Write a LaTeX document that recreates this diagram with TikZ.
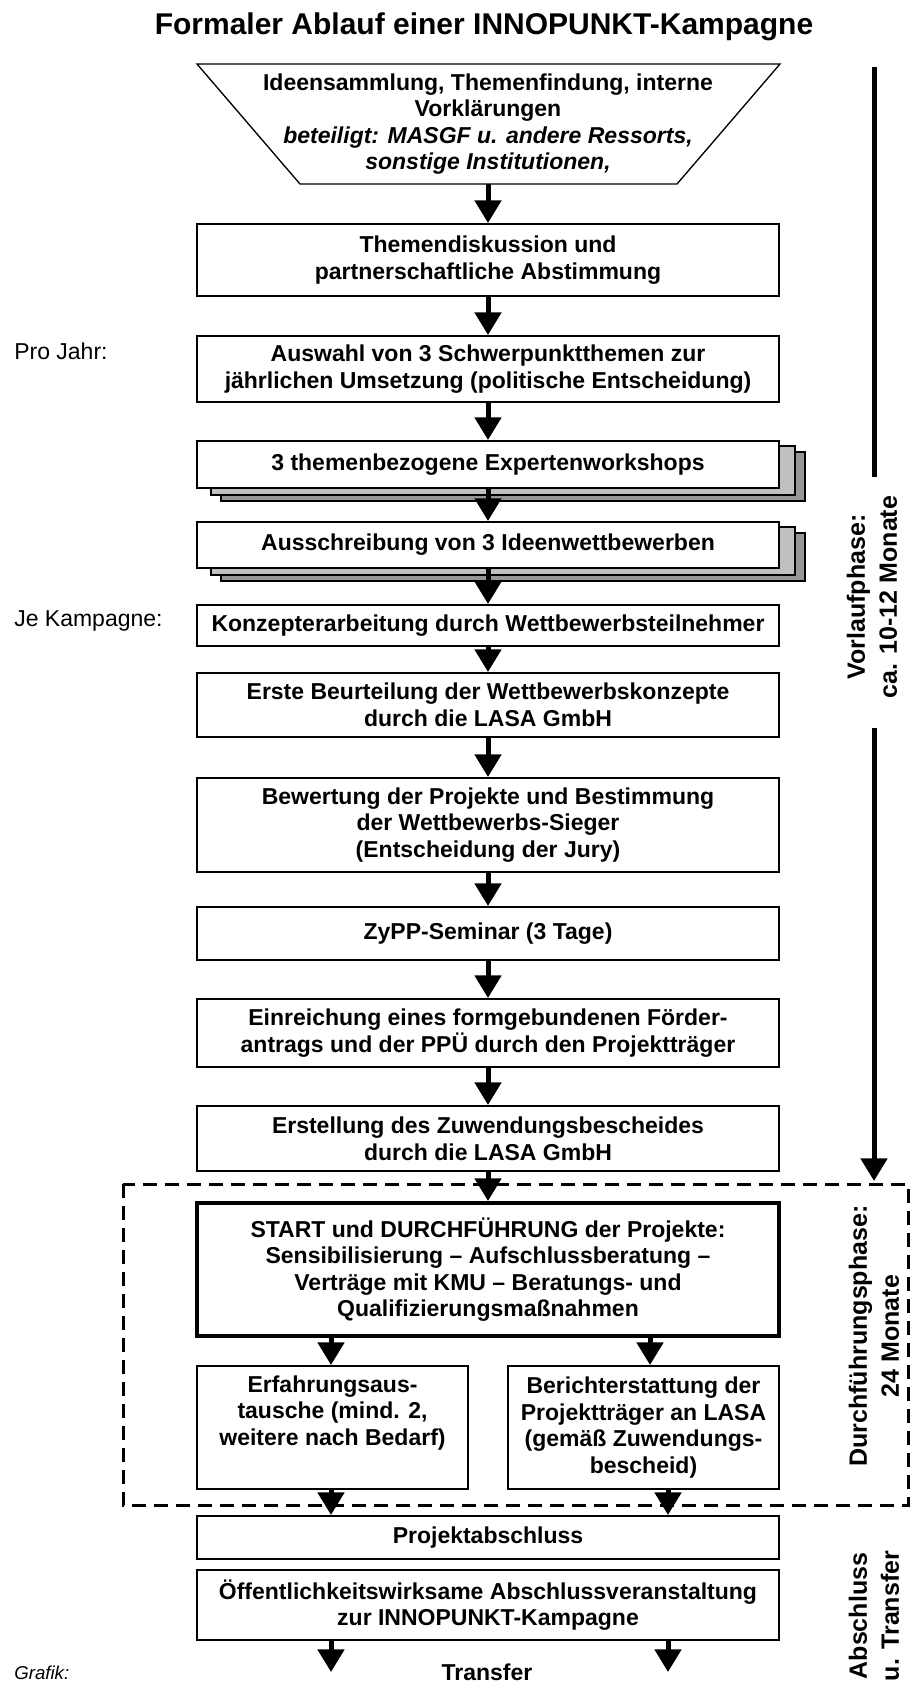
\documentclass[tikz,border=0pt]{standalone}
\usepackage{fontspec}
\setmainfont{Liberation Sans}
\usetikzlibrary{arrows.meta,calc,backgrounds}
\definecolor{shadA}{HTML}{C0C0C0}
\definecolor{shadB}{HTML}{969696}
\newcommand{\boxfont}{\fontsize{17.25pt}{19.9pt}\selectfont\bfseries}
\newcommand{\phasefont}{\fontsize{18.75pt}{24pt}\selectfont\bfseries}
\newcommand{\sidefont}{\fontsize{17.25pt}{19.9pt}\selectfont}
\begin{document}
\begin{tikzpicture}[x=0.75pt,y=-0.75pt,
  box/.style={draw, line width=1.5pt, fill=white, minimum width=436.5pt, align=center, inner sep=0pt, font=\boxfont},
  smallbox/.style={box, minimum width=203.25pt},
  arr/.style={line width=3.75pt, -{Triangle[width=19.5pt,length=17pt]}},
  bar/.style={line width=3.75pt},
  shadowbox/.style={draw, line width=1.2pt},
  phase/.style={rotate=90, align=center, inner sep=0pt, font=\phasefont},
  side/.style={anchor=base west, inner sep=0pt, font=\sidefont},
  dashrect/.style={line width=2.25pt, dash pattern=on 10.5pt off 6pt},
  trapz/.style={line width=1pt}
]
\useasboundingbox (0,0) rectangle (914,1684);

% title
\node[anchor=base, inner sep=0pt, font=\fontsize{22.5pt}{26pt}\selectfont\bfseries] (title) at (484,35) {Formaler Ablauf einer INNOPUNKT-Kampagne};

% trapezoid
\draw[trapz] (197,64) -- (780,64) -- (677,184) -- (300,184) -- cycle;
\node[align=center, inner sep=0pt, minimum width=436.5pt, minimum height=90pt, font=\boxfont] (trap) at (488,124)
  {Ideensammlung, Themenfindung, interne\\Vorklärungen\\\textit{beteiligt: MASGF u. andere Ressorts,}\\\textit{sonstige Institutionen,}};

% main column
\node[box, minimum height=54pt] (them) at (488,260) {Themendiskussion und\\partnerschaftliche Abstimmung};
\node[box, minimum height=49.5pt] (ausw) at (488,369) {Auswahl von 3 Schwerpunktthemen zur\\jährlichen Umsetzung (politische Entscheidung)};
\node[box, minimum height=35.25pt] (expw) at (488,464.5) {3 themenbezogene Expertenworkshops};
\node[box, minimum height=34.5pt] (aussch) at (488,545) {Ausschreibung von 3 Ideenwettbewerben};
\node[box, minimum height=30.75pt] (konz) at (488,625.5) {Konzepterarbeitung durch Wettbewerbsteilnehmer};
\node[box, minimum height=48pt] (erste) at (488,705) {Erste Beurteilung der Wettbewerbskonzepte\\durch die LASA GmbH};
\node[box, minimum height=70.5pt] (bew) at (488,825) {Bewertung der Projekte und Bestimmung\\der Wettbewerbs-Sieger\\(Entscheidung der Jury)};
\node[box, minimum height=39.75pt] (zypp) at (488,933.5) {ZyPP-Seminar (3 Tage)};
\node[box, minimum height=51pt] (einr) at (488,1033) {Einreichung eines formgebundenen Förder-\\antrags und der PPÜ durch den Projektträger};
\node[box, minimum height=48.75pt] (erst) at (488,1138.5) {Erstellung des Zuwendungsbescheides\\durch die LASA GmbH};
\node[box, line width=3pt, minimum height=99.75pt] (start) at (488,1269.5) {START und DURCHFÜHRUNG der Projekte:\\Sensibilisierung – Aufschlussberatung –\\Verträge mit KMU – Beratungs- und\\Qualifizierungsmaßnahmen};
\node[smallbox, minimum height=92.25pt] (erf) at (332.5,1427.5) {Erfahrungsaus-\\tausche (mind. 2,\\weitere nach Bedarf)\\\strut};
\node[smallbox, minimum height=92.25pt] (ber) at (643.5,1427.5) {Berichterstattung der\\Projektträger an LASA\\(gemäß Zuwendungs-\\bescheid)};
\node[box, minimum height=32.25pt] (pa) at (488,1537.5) {Projektabschluss};
\node[box, minimum height=52.5pt] (oe) at (488,1605) {Öffentlichkeitswirksame Abschlussveranstaltung\\zur INNOPUNKT-Kampagne};

% stacked shadows
\begin{pgfonlayer}{background}
  \foreach \n in {expw,aussch}{
    \draw[shadowbox, fill=shadB] ($(\n.north west)+(25,12)$) rectangle ($(\n.south east)+(25,12)$);
    \draw[shadowbox, fill=shadA] ($(\n.north west)+(15,6)$) rectangle ($(\n.south east)+(15,6)$);
  }
\end{pgfonlayer}

% dashed frame of the Durchführungsphase
\draw[dashrect] (123,1184) rectangle (908,1505);

% side labels
\node[side] (proj) at (14,359) {Pro Jahr:};
\node[side] (jek) at (14,626) {Je Kampagne:};
\node[anchor=base west, inner sep=0pt, font=\fontsize{14pt}{16pt}\selectfont\itshape] (graf) at (14,1679) {Grafik:};
\node[anchor=base, inner sep=0pt, font=\boxfont] (transfer) at (487,1680) {Transfer};

% phase labels
\node[phase] (ph1) at (872,597) {Vorlaufphase:\\ca. 10-12 Monate};
\node[phase] (ph2) at (874,1336) {Durchführungsphase:\\24 Monate};
\node[phase] (ph3) at (874,1616) {Abschluss\\u. Transfer};

% right timeline bar
\coordinate (b1) at (874,67);
\coordinate (b2) at (874,477);
\coordinate (b3) at (874,728);
\coordinate (b4) at (874,1181);
\draw[bar] (b1) -- (b2);
\draw[arr] (b3) -- (b4);

% column helpers
\coordinate (colL) at (331,0);
\coordinate (colRu) at (650,0);
\coordinate (colR) at (668,0);
\coordinate (tL) at (331,1672);
\coordinate (tR) at (668,1672);

% arrows
\draw[arr] (trap.south) -- (them.north);
\draw[arr] (them.south) -- (ausw.north);
\draw[arr] (ausw.south) -- (expw.north);
\draw[arr] (expw.south) -- (aussch.north);
\draw[arr] (aussch.south) -- (konz.north);
\draw[arr] (konz.south) -- (erste.north);
\draw[arr] (erste.south) -- (bew.north);
\draw[arr] (bew.south) -- (zypp.north);
\draw[arr] (zypp.south) -- (einr.north);
\draw[arr] (einr.south) -- (erst.north);
\draw[arr] (erst.south) -- (start.north);
\draw[arr] (start.south -| colL) -- (erf.north -| colL);
\draw[arr] (start.south -| colRu) -- (ber.north -| colRu);
\draw[arr] (erf.south -| colL) -- (pa.north -| colL);
\draw[arr] (ber.south -| colR) -- (pa.north -| colR);
\draw[arr] (oe.south -| tL) -- (tL);
\draw[arr] (oe.south -| tR) -- (tR);
\end{tikzpicture}
\end{document}
